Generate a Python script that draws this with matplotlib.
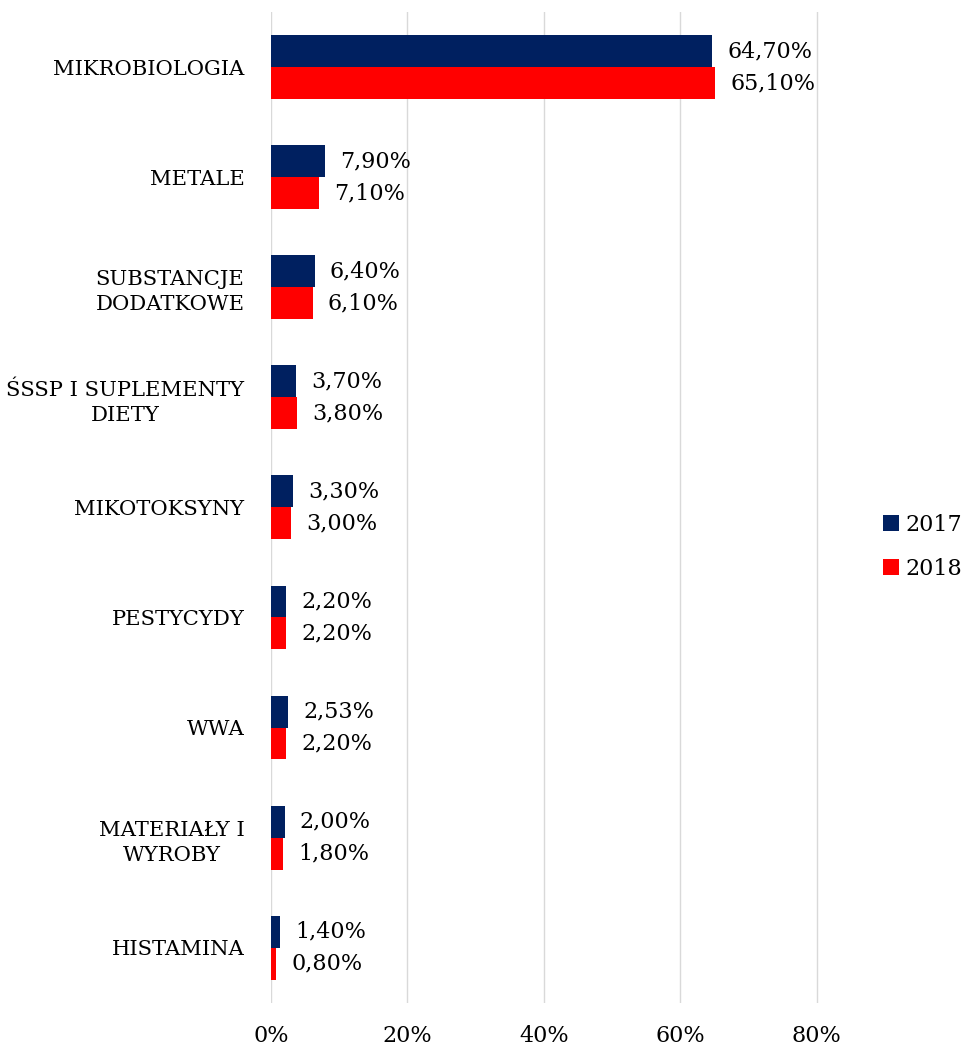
import numpy as np
import matplotlib.pyplot as plt
from matplotlib.patches import Patch

categories = [
    "MIKROBIOLOGIA",
    "METALE",
    "SUBSTANCJE\nDODATKOWE",
    "ŚSSP I SUPLEMENTY\nDIETY",
    "MIKOTOKSYNY",
    "PESTYCYDY",
    "WWA",
    "MATERIAŁY I\nWYROBY",
    "HISTAMINA",
]
values_2017 = [64.70, 7.90, 6.40, 3.70, 3.30, 2.20, 2.53, 2.00, 1.40]
values_2018 = [65.10, 7.10, 6.10, 3.80, 3.00, 2.20, 2.20, 1.80, 0.80]
series_names = ["2017", "2018"]
xticks = [0, 20, 40, 60, 80]

NAVY = "#002060"
RED = "#FF0000"
FS = 16

plt.rcParams["font.family"] = ["DejaVu Serif", "Liberation Serif"]

fig = plt.figure(figsize=(9.64, 10.5), dpi=100)
# 0..81 on x so the 80% gridline is not clipped at the edge
ax = fig.add_axes([0.281, 0.045, 0.5734, 0.9436])

y = np.arange(len(categories))
h = 0.29

b1 = ax.barh(y - h / 2, values_2017, height=h, color=NAVY, zorder=3)
b2 = ax.barh(y + h / 2, values_2018, height=h, color=RED, zorder=3)


def fmt(v):
    return f"{v:.2f}%".replace(".", ",")


for bars, vals in ((b1, values_2017), (b2, values_2018)):
    for rect, v in zip(bars, vals):
        ax.annotate(fmt(v), (v, rect.get_y() + rect.get_height() / 2),
                    xytext=(11, 0), textcoords="offset points",
                    va="center", ha="left", fontsize=FS, color="#000000")

ax.set_xlim(0, 81)
ax.set_ylim(len(categories) - 0.5, -0.5)
ax.set_xticks(xticks)
ax.set_xticklabels([f"{t}%" for t in xticks], fontsize=FS)
ax.set_yticks(y)
ax.set_yticklabels(categories, fontsize=15.2, multialignment="center",
                   linespacing=1.4)

ax.tick_params(axis="both", length=0)
ax.tick_params(axis="x", pad=16)
ax.tick_params(axis="y", pad=19)
ax.grid(axis="x", color="#D9D9D9", linewidth=1, zorder=0)
for s in ax.spines.values():
    s.set_visible(False)

handles = [Patch(facecolor=NAVY), Patch(facecolor=RED)]
fig.legend(handles, series_names, loc="center left", bbox_to_anchor=(0.916, 0.479),
           frameon=False, fontsize=FS, handlelength=0.72, handleheight=0.72,
           handletextpad=0.3, labelspacing=1.0, borderpad=0, borderaxespad=0)

fig.savefig("out.png", dpi=100)
